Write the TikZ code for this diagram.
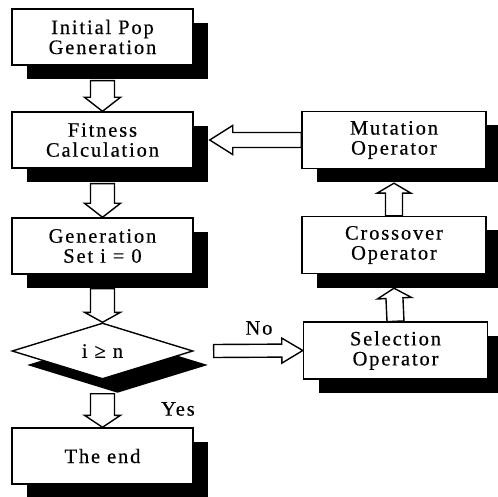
\documentclass[tikz,border=0pt]{standalone}
\usepackage{fontspec}
\setmainfont{Liberation Serif}
\newfontfamily\flowfont[LetterSpace=9,FakeBold=0.4]{Liberation Serif}
\usetikzlibrary{shadows}
\usetikzlibrary{shapes.geometric}
\usetikzlibrary{calc}
\tikzstyle{block}=[draw,line width=1.4pt,fill=white,minimum width=181pt,minimum height=56pt,inner sep=0pt,align=center,font=\flowfont\fontsize{20.5}{20}\selectfont,drop shadow={shadow xshift=15pt,shadow yshift=-14pt,fill=black,opacity=1}]
\tikzstyle{opblock}=[block,minimum width=184pt,minimum height=57pt]
\tikzstyle{decision}=[block,diamond,aspect=3.2]
\tikzstyle{lbl}=[font=\flowfont\fontsize{20.5}{20}\selectfont]
\tikzset{along/.style={shift={(\p1)},rotate=\n1},
  fat/.style n args={3}{line width=1.4pt,to path={
    let \p1=(\tikztostart),\p2=(\tikztotarget),
        \n1={atan2(\y2-\y1,\x2-\x1)},\n2={veclen(\x2-\x1,\y2-\y1)} in
    ([along]0,#1) -- ([along]\n2-#3,#1) -- ([along]\n2-#3,#2) -- ([along]\n2,0)
    -- ([along]\n2-#3,-#2) -- ([along]\n2-#3,-#1) -- ([along]0,-#1) -- cycle}}}

\begin{document}
\begin{tikzpicture}[x=1pt,y=1pt]
    \useasboundingbox (0,0) rectangle (498,-497);

    \node[block] (init) at (102.5,-37) {Initial Pop\\Generation};
    \node[block] (fit) at (102.5,-140) {Fitness\\Calculation};
    \node[block] (gen) at (102.5,-246) {Generation\\Set i = 0};
    \node[decision] (cond) at (102.5,-351) {i ≥ n};
    \node[block] (end) at (102.5,-456) {The end};

    \node[opblock] (mut) at (394,-140) {Mutation\\Operator};
    \node[opblock] (cross) at (394,-245) {Crossover\\Operator};
    \node[opblock] (sel) at (395.5,-350.5) {Selection\\Operator};

    \node[lbl] (no) at (259,-328) {No};
    \node[lbl] (yes) at (178,-409) {Yes};

    \draw[fat={12}{18}{14}] ([yshift=-15pt]init.south) to (fit.north);
    \draw[fat={12}{18}{14}] ([yshift=-15pt]fit.south) to (gen.north);
    \draw[fat={12}{18}{10}] ([yshift=-14pt]gen.south) to (cond.north);
    \draw[fat={12}{18}{12}] ([yshift=-14pt]cond.south) to (end.north);
    \draw[fat={7.5}{14.5}{23}] (mut.west) to ([xshift=16pt]fit.east);
    \draw[fat={6.5}{12.5}{21}] ([xshift=20pt]cond.east) to (sel.west);
    \draw[fat={8.5}{17}{10}] (sel.north) to ([yshift=-14pt]cross.south);
    \draw[fat={8.5}{17}{10}] (cross.north) to ([yshift=-14pt]mut.south);
  \end{tikzpicture}
\end{document}
